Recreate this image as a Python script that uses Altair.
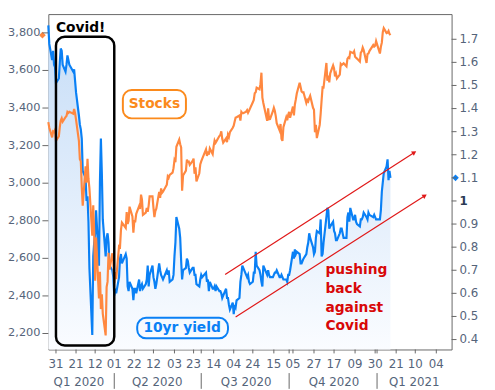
import altair as alt
import pandas as pd

# ---------------- data ----------------
START, END = "2020-01-23", "2021-01-15"
HOLIDAYS = ["2020-02-17", "2020-04-10", "2020-05-25", "2020-07-03",
            "2020-09-07", "2020-11-26", "2020-12-25", "2021-01-01"]

STOCKS = [
    3325, 3295, 3244, 3276, 3273, 3284, 3226,
    3249, 3298, 3334, 3346, 3328, 3352, 3358, 3379, 3374, 3380, 3370, 3395, 3373, 3338, 3226, 3128, 3116, 2979, 2880,
    3090, 3003, 3130, 3024, 2972, 2720, 2882, 2741, 2481, 2711, 2386, 2529, 2330, 2409, 2305, 2190, 2447, 2476, 2630, 2541, 2627, 2585,
    2470, 2527, 2489, 2664, 2660, 2750, 2790, 2762, 2846, 2783, 2800, 2875, 2823, 2737, 2799, 2798, 2837, 2878, 2863, 2939, 2912,
    2831, 2843, 2868, 2848, 2881, 2930, 2930, 2870, 2820, 2852, 2864, 2954, 2922, 2972, 2949, 2955, 2992, 3036, 3029, 3044,
    3056, 3080, 3123, 3112, 3194, 3232, 3207, 3190, 2960, 3041, 3067, 3125, 3113, 3115, 3098, 3118, 3131, 3050, 3084, 3009, 3053, 3100,
    3116, 3130, 3180, 3145, 3169, 3152, 3185, 3155, 3197, 3227, 3215, 3224, 3251, 3257, 3276, 3236, 3216, 3239, 3218, 3258, 3246, 3271,
    3295, 3306, 3328, 3349, 3351, 3360, 3333, 3380, 3373, 3373, 3381, 3389, 3375, 3385, 3397, 3431, 3443, 3479, 3484, 3508, 3500,
    3527, 3588, 3455, 3427, 3332, 3399, 3340, 3341, 3383, 3401, 3385, 3357, 3319, 3281, 3315, 3237, 3225, 3298, 3351, 3335, 3363,
    3380, 3348, 3408, 3361, 3419, 3446, 3477, 3535, 3512, 3488, 3483, 3484, 3427, 3443, 3436, 3453, 3465, 3401, 3391, 3271, 3310, 3240,
    3310, 3370, 3443, 3510, 3509, 3640, 3545, 3572, 3537, 3585, 3627, 3610, 3568, 3582, 3558, 3578, 3635, 3629, 3638, 3622,
    3662, 3669, 3666, 3699, 3692, 3702, 3673, 3668, 3663, 3647, 3695, 3702, 3722, 3709, 3640, 3687, 3690, 3703, 3735, 3727, 3732, 3756,
    3690, 3726, 3748, 3804, 3825, 3799, 3801, 3810, 3795, 3788,
]

YIELDS = [
    1.76, 1.68, 1.61, 1.65, 1.59, 1.58, 1.51,
    1.53, 1.60, 1.66, 1.65, 1.59, 1.56, 1.59, 1.63, 1.61, 1.59, 1.56, 1.57, 1.52, 1.47, 1.37, 1.33, 1.31, 1.27, 1.13,
    1.10, 1.00, 1.02, 0.91, 0.71, 0.42, 0.76, 0.82, 0.86, 0.96, 0.72, 1.08, 1.27, 1.12, 0.92, 0.76, 0.84, 0.86, 0.82, 0.72, 0.70, 0.67,
    0.59, 0.62, 0.60, 0.67, 0.75, 0.77, 0.73, 0.77, 0.75, 0.63, 0.61, 0.65, 0.62, 0.57, 0.62, 0.62, 0.60, 0.66, 0.61, 0.63, 0.64,
    0.62, 0.64, 0.66, 0.72, 0.63, 0.68, 0.72, 0.67, 0.65, 0.62, 0.64, 0.73, 0.70, 0.68, 0.67, 0.66, 0.70, 0.68, 0.70, 0.65,
    0.66, 0.68, 0.76, 0.82, 0.93, 0.88, 0.84, 0.74, 0.66, 0.70, 0.71, 0.75, 0.74, 0.71, 0.69, 0.71, 0.71, 0.68, 0.68, 0.64, 0.63, 0.66,
    0.68, 0.67, 0.69, 0.65, 0.66, 0.61, 0.65, 0.62, 0.62, 0.63, 0.61, 0.63, 0.61, 0.61, 0.60, 0.58, 0.59, 0.62, 0.58, 0.58, 0.55, 0.53,
    0.56, 0.51, 0.55, 0.54, 0.57, 0.58, 0.65, 0.68, 0.72, 0.71, 0.68, 0.67, 0.68, 0.65, 0.64, 0.65, 0.69, 0.69, 0.78, 0.72, 0.70,
    0.68, 0.65, 0.63, 0.72, 0.68, 0.70, 0.68, 0.67, 0.67, 0.68, 0.69, 0.69, 0.70, 0.67, 0.67, 0.68, 0.67, 0.66, 0.66, 0.65, 0.68,
    0.68, 0.70, 0.78, 0.75, 0.79, 0.77, 0.78, 0.77, 0.73, 0.73, 0.74, 0.75, 0.77, 0.80, 0.82, 0.86, 0.84, 0.80, 0.77, 0.78, 0.84, 0.87,
    0.86, 0.92, 0.76, 0.77, 0.82, 0.93, 0.97, 0.96, 0.88, 0.89, 0.91, 0.87, 0.86, 0.83, 0.83, 0.86, 0.88, 0.88, 0.84, 0.84,
    0.93, 0.95, 0.91, 0.97, 0.92, 0.92, 0.94, 0.91, 0.90, 0.89, 0.92, 0.92, 0.93, 0.95, 0.93, 0.92, 0.95, 0.94, 0.93, 0.94, 0.93, 0.92,
    0.92, 0.96, 1.04, 1.08, 1.12, 1.15, 1.18, 1.09, 1.13, 1.10,
]

TICK_DATES = ["2020-01-31", "2020-02-21", "2020-03-12", "2020-04-01", "2020-04-22",
              "2020-05-12", "2020-06-03", "2020-06-23", "2020-07-14", "2020-08-04",
              "2020-08-24", "2020-09-15", "2020-10-05", "2020-10-27", "2020-11-17",
              "2020-12-09", "2020-12-30", "2021-01-21", "2021-02-10", "2021-03-04"]
QUARTER_STARTS = ["2020-04-01", "2020-07-01", "2020-10-01", "2021-01-01"]
QUARTER_LABELS = ["Q1 2020", "Q2 2020", "Q3 2020", "Q4 2020", "Q1 2021"]
QUARTER_MIDS = ["2020-02-24", "2020-05-16", "2020-08-17", "2020-11-17", "2021-02-09"]
STOCK_TICKS = [2200, 2400, 2600, 2800, 3000, 3200, 3400, 3600, 3800]
YIELD_TICKS = [0.4, 0.5, 0.6, 0.7, 0.8, 0.9, 1.0, 1.1, 1.2, 1.3, 1.4, 1.5, 1.6, 1.7]
YIELD_TICK_LABELS = ["0.4", "0.5", "0.6", "0.7", "0.8", "0.9", "1", "1.1", "1.2", "1.3",
                     "1.4", "1.5", "1.6", "1.7"]

# annotation anchors (date, value)
COVID_BOX = dict(date="2020-01-31", date2="2020-04-01", v=3779, v2=2136)
COVID_TEXT = dict(date="2020-01-31", v=3826, label="Covid!")
STOCKS_BOX = dict(date="2020-04-10", date2="2020-06-15", v=3496, v2=3345)
STOCKS_TEXT = dict(date="2020-05-13", v=3420, label="Stocks")
YIELD_BOX = dict(date="2020-04-25", date2="2020-07-29", v=0.494, v2=0.4055)
YIELD_TEXT = dict(date="2020-06-11", v=0.449, label="10yr yield")
ARROW_START = ["2020-07-26", "2020-08-06"]
ARROW_START_V = [0.682, 0.498]
ARROW_END = ["2021-02-09", "2021-02-20"]
ARROW_END_V = [1.210, 1.023]
NOTE_TEXT = dict(date="2020-11-08", v=0.699)
NOTE_LINES = ["pushing", "back", "against", "Covid"]

# ---------------- build ----------------
days = pd.bdate_range(START, END)
days = days[~days.isin(pd.to_datetime(HOLIDAYS))]
assert len(days) == len(STOCKS) == len(YIELDS), (len(days), len(STOCKS), len(YIELDS))
df = pd.DataFrame({"date": days, "stocks": STOCKS, "yld": YIELDS})
last = df.tail(1)

W, H = 410, 341
BLUE = "#0a80f5"
ORANGE = "#ff8840"
RED = "#e01818"
LABEL = "#55647a"
AXIS = "#666666"
FONT = "DejaVu Sans"
YMIN, YMAX = 0.357, 1.809
SMIN, SMAX = 2115, 3900


def dt(s):
    y, m, d = map(int, s.split("-"))
    return alt.DateTime(year=y, month=m, date=d)


XS = alt.Scale(domain=[dt("2020-01-23"), dt("2021-03-20")])
LS = alt.Scale(domain=[SMIN, SMAX], nice=False, zero=False)
RS = alt.Scale(domain=[YMIN, YMAX], nice=False, zero=False)

X0 = alt.X("date:T", scale=XS, axis=None)
X2 = alt.X2("date2:T")


def YL(field):
    return alt.Y(field, scale=LS, axis=None)


def YR(field):
    return alt.Y(field, scale=RS, axis=None)


def one(d):
    return pd.DataFrame([{k: (pd.Timestamp(v) if k.startswith("date") else v) for k, v in d.items()}])


# area under the yield
grad = alt.Gradient(gradient="linear",
                    stops=[alt.GradientStop(color="#c6ddf7", offset=0),
                           alt.GradientStop(color="#fafcff", offset=1)],
                    x1=1, x2=1, y1=0, y2=1)
area = alt.Chart(df).mark_area(color=grad, opacity=1).encode(
    x=X0, y=YR("yld:Q"), y2=alt.datum(YMIN))

# ---------- bottom axis (ticks + day labels + quarter row) ----------
tick_df = pd.DataFrame({"date": pd.to_datetime(TICK_DATES),
                        "label": [s[-2:] for s in TICK_DATES]})
all_ticks = pd.DataFrame({"date": pd.to_datetime(sorted(set(TICK_DATES + QUARTER_STARTS)))})
xticks = alt.Chart(all_ticks).mark_rule(color=AXIS, strokeWidth=1).encode(
    x=X0, y=alt.value(H), y2=alt.value(H + 4))
xlabels = alt.Chart(tick_df).mark_text(font=FONT, fontSize=12, color=LABEL, baseline="middle").encode(
    x=X0, y=alt.value(H + 15), text="label:N")
q_df = pd.DataFrame({"date": pd.to_datetime(QUARTER_MIDS), "label": QUARTER_LABELS})
qlabels = alt.Chart(q_df).mark_text(font=FONT, fontSize=12, color=LABEL, baseline="middle").encode(
    x=X0, y=alt.value(H + 33), text="label:N")
sep_df = pd.DataFrame({"date": pd.to_datetime(QUARTER_STARTS)})
seps = alt.Chart(sep_df).mark_rule(color=AXIS, strokeWidth=1).encode(
    x=X0, y=alt.value(H + 24), y2=alt.value(H + 40))

# ---------- yield group (right scale) ----------
yline = alt.Chart(df).mark_line(color=BLUE, strokeWidth=2.2).encode(x=X0, y=YR("yld:Q"))
ymark = alt.Chart(last).mark_point(shape="diamond", filled=True, size=45, color=BLUE, opacity=1).encode(
    x=alt.value(W + 4), y=YR("yld:Q"))

rt_df = pd.DataFrame({"v": YIELD_TICKS, "label": YIELD_TICK_LABELS})
rticks = alt.Chart(rt_df).mark_rule(color=AXIS, strokeWidth=1).encode(
    x=alt.value(W), x2=alt.value(W + 5), y=YR("v:Q"))
rlabels = alt.Chart(rt_df).transform_filter("datum.v != 1").mark_text(
    font=FONT, fontSize=12, color=LABEL, align="left", baseline="middle").encode(
    x=alt.value(W + 8), y=YR("v:Q"), text="label:N")
rlabel_one = alt.Chart(rt_df).transform_filter("datum.v == 1").mark_text(
    font=FONT, fontSize=12, fontWeight="bold", color="#2b3a55", align="left", baseline="middle").encode(
    x=alt.value(W + 8), y=YR("v:Q"), text="label:N")

arrows_df = pd.DataFrame({"date": pd.to_datetime(ARROW_START), "v": ARROW_START_V,
                          "date2": pd.to_datetime(ARROW_END), "v2": ARROW_END_V})
arrows = alt.Chart(arrows_df).mark_rule(color=RED, strokeWidth=1.2).encode(
    x=X0, x2=X2, y=YR("v:Q"), y2="v2:Q")
heads = alt.Chart(arrows_df).mark_point(shape="triangle-up", filled=True, size=28,
                                        angle=57, color=RED, opacity=1).encode(
    x=alt.X("date2:T", scale=XS, axis=None), y=YR("v2:Q"))

ybox = alt.Chart(one(YIELD_BOX)).mark_rect(fillOpacity=0, stroke=BLUE, strokeWidth=2,
                                            cornerRadius=9).encode(
    x=X0, x2=X2, y=YR("v:Q"), y2="v2:Q")
ytext = alt.Chart(one(YIELD_TEXT)).mark_text(font=FONT, fontSize=14, fontWeight="bold",
                                              color=BLUE, baseline="middle").encode(
    x=X0, y=YR("v:Q"), text="label:N")
note = alt.Chart(one(NOTE_TEXT)).mark_text(text=NOTE_LINES, font=FONT, fontSize=14,
                                            fontWeight="bold", color="#d80808", align="left",
                                            baseline="middle", lineHeight=19).encode(
    x=X0, y=YR("v:Q"))

yield_group = alt.layer(yline, ymark, rticks, rlabels, rlabel_one, arrows, heads,
                        ybox, ytext, note)

# ---------- stock group (left scale) ----------
sline = alt.Chart(df).mark_line(color=ORANGE, strokeWidth=2.2).encode(x=X0, y=YL("stocks:Q"))
smark = alt.Chart(last).mark_point(shape="diamond", filled=True, size=45, color=ORANGE, opacity=1).encode(
    x=alt.value(-6), y=YL("stocks:Q"))

lt_df = pd.DataFrame({"v": STOCK_TICKS, "label": [f"{v:,}" for v in STOCK_TICKS]})
lticks = alt.Chart(lt_df).mark_rule(color=AXIS, strokeWidth=1).encode(
    x=alt.value(-6), x2=alt.value(0), y=YL("v:Q"))
llabels = alt.Chart(lt_df).mark_text(font=FONT, fontSize=11.5, color=LABEL, align="right",
                                     baseline="middle").encode(
    x=alt.value(-8), y=YL("v:Q"), text="label:N")

cbox = alt.Chart(one(COVID_BOX)).mark_rect(fillOpacity=0, stroke="#000000", strokeWidth=2.5,
                                            cornerRadius=9).encode(
    x=X0, x2=X2, y=YL("v:Q"), y2="v2:Q")
ctext = alt.Chart(one(COVID_TEXT)).mark_text(font=FONT, fontSize=14, fontWeight="bold",
                                              color="#000000", align="left", baseline="middle").encode(
    x=X0, y=YL("v:Q"), text="label:N")
sbox = alt.Chart(one(STOCKS_BOX)).mark_rect(fillOpacity=0, stroke="#fb8a1c", strokeWidth=2,
                                             cornerRadius=9).encode(
    x=X0, x2=X2, y=YL("v:Q"), y2="v2:Q")
stext = alt.Chart(one(STOCKS_TEXT)).mark_text(font=FONT, fontSize=14, fontWeight="bold",
                                               color="#fb8a1c", baseline="middle").encode(
    x=X0, y=YL("v:Q"), text="label:N")

stock_group = alt.layer(sline, smark, lticks, llabels, cbox, ctext, sbox, stext)

bottom_group = alt.layer(xticks, xlabels, qlabels, seps)

chart = alt.layer(area, yield_group, stock_group, bottom_group).resolve_scale(
    y="independent").properties(
    width=W, height=H,
    autosize=alt.AutoSizeParams(type="none"),
    padding={"left": 41, "top": 3, "right": 36, "bottom": 38},
    background="white",
).configure_view(stroke=AXIS, strokeWidth=1)

chart.save("out.html", embed_options={"renderer": "svg", "actions": False})
